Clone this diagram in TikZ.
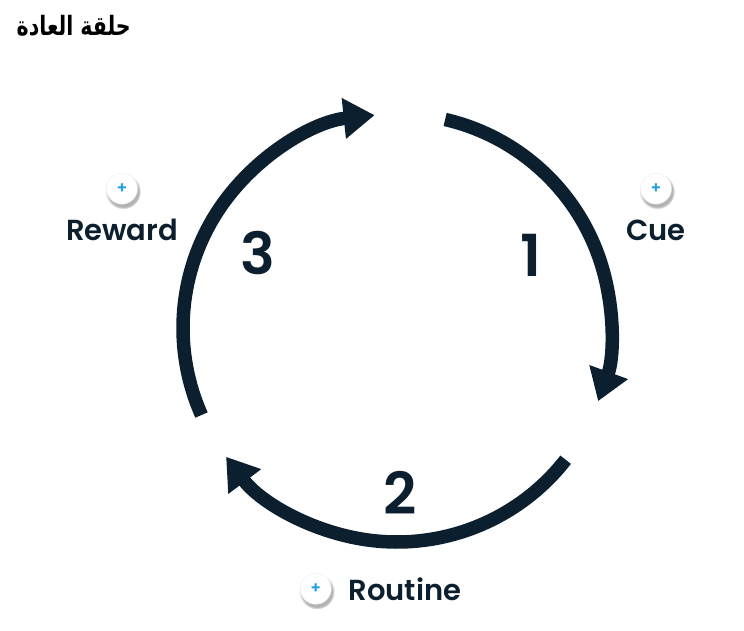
\documentclass[tikz,border=0pt]{standalone}
\usepackage{fontspec}
\setmainfont{Poppins}[BoldFont={Poppins SemiBold}]
\newfontfamily\arabicfont[Script=Arabic]{DejaVu Sans}
\TeXXeTstate=1
\usepackage{tikz}
\usetikzlibrary{positioning}
\usetikzlibrary{arrows.meta}
\usetikzlibrary{shadows}
\definecolor{loopnavy}{HTML}{0B1F2E}
\definecolor{plusblue}{HTML}{1BA1E2}
\tikzset{loop arc/.style={draw=loopnavy,line width=13.5pt,-{Triangle[length=31pt,width=39pt]}},
	plus node/.style={circle,fill=white,draw=black!7,minimum size=31pt,inner sep=0pt,text=plusblue,font=\bfseries\fontsize{16}{16}\selectfont,circular drop shadow={shadow xshift=1pt,shadow yshift=-2.5pt,shadow scale=1.15,opacity=0.6}},
	label node/.style={text=loopnavy,font=\bfseries\fontsize{29}{29}\selectfont,inner sep=0pt},
	num node/.style={text=loopnavy,font=\bfseries\fontsize{58}{58}\selectfont,inner sep=0pt},}

\begin{document}
\begin{tikzpicture}[x=1pt, y=1pt]
	\useasboundingbox (0,0) rectangle (744,630);
	\node[anchor=north east, inner sep=0pt] (title) at (131,615) {\scalebox{1}[1.3]{\arabicfont\bfseries\fontsize{20.5}{20.5}\selectfont\beginR حلقة العادة\endR}};

	\coordinate (hub) at (397,302);
	\draw[loop arc] ([shift={(77:214)}]hub) arc[start angle=77, end angle=-20, radius=214];
	\draw[loop arc] ([shift={(-38:214)}]hub) arc[start angle=-38, end angle=-143, radius=214];
	\draw[loop arc] ([shift={(204:214)}]hub) arc[start angle=204, end angle=96, radius=214];

	\node[num node] (one) at (531,375) {1};
	\node[num node] (two) at (400,137) {2};
	\node[num node] (three) at (258,377) {3};

	\node[label node, anchor=base] (cue) at (656,389) {Cue};
	\node[label node, anchor=base] (reward) at (122,389) {Reward};
	\node[label node, anchor=base] (routine) at (405,30) {Routine};
	\node[plus node] (cueplus) [above=16pt of cue] {+};
	\node[plus node] (rewardplus) [above=15pt of reward] {+};
	\node[plus node] (routineplus) [left=17pt of routine] {+};
\end{tikzpicture}
\end{document}
